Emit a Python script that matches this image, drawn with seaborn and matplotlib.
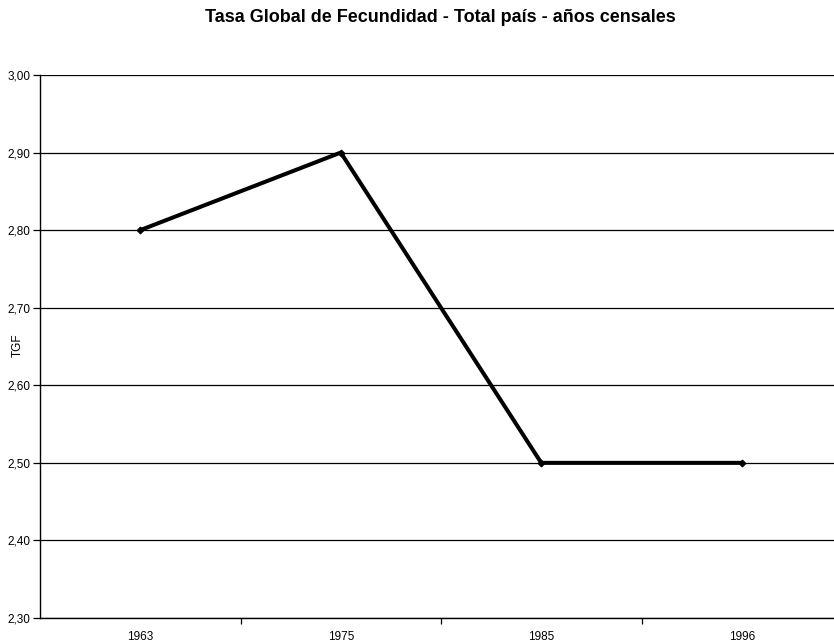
import matplotlib
matplotlib.use("Agg")
import matplotlib.pyplot as plt
from matplotlib.ticker import FixedLocator, FuncFormatter
import seaborn as sns
import pandas as pd

years = ["1963", "1975", "1985", "1996"]
tgf = [2.80, 2.90, 2.50, 2.50]
y_ticks = [2.30, 2.40, 2.50, 2.60, 2.70, 2.80, 2.90, 3.00]

sns.set_theme(style="white")
plt.rcParams["font.family"] = ["Liberation Sans", "DejaVu Sans"]

df = pd.DataFrame({"Año": years, "TGF": tgf})

fig = plt.figure(figsize=(8.34, 6.41), dpi=100)
ax = fig.add_axes([40 / 834, 1 - 618 / 641, 802 / 834, 543 / 641])

sns.lineplot(data=df, x="Año", y="TGF", ax=ax, color="black", linewidth=2.9,
             marker="D", markersize=3.5, markeredgecolor="black", sort=False)

ax.set_xlim(-0.5, 3.5)
ax.set_ylim(2.30, 3.00)
ax.set_yticks(y_ticks)
ax.yaxis.set_major_formatter(FuncFormatter(lambda v, p: f"{v:.2f}".replace(".", ",")))
ax.grid(axis="y", color="black", linewidth=0.9)
ax.set_axisbelow(True)

ax.xaxis.set_minor_locator(FixedLocator([0.5, 1.5, 2.5]))
ax.tick_params(axis="x", which="major", length=0, pad=9, labelsize=8.5, colors="black")
ax.tick_params(axis="x", which="minor", length=4, width=0.9, direction="out",
               bottom=True, color="black")
ax.tick_params(axis="y", which="major", length=5, width=0.9, direction="out",
               left=True, pad=2, labelsize=8.5, colors="black")

for side in ["top", "right"]:
    ax.spines[side].set_visible(False)
for side in ["left", "bottom"]:
    ax.spines[side].set_color("black")
    ax.spines[side].set_linewidth(1.0)

ax.set_xlabel("")
ax.set_ylabel("")
fig.text(18 / 834, 1 - 345 / 641, "TGF", rotation=90, ha="center", va="center",
         fontsize=8.5, color="black")

fig.text(440 / 834, 1 - 17 / 641, "Tasa Global de Fecundidad - Total país - años censales",
         ha="center", va="center", fontsize=13, fontweight="bold", color="black")

fig.savefig("out.png", dpi=100)
